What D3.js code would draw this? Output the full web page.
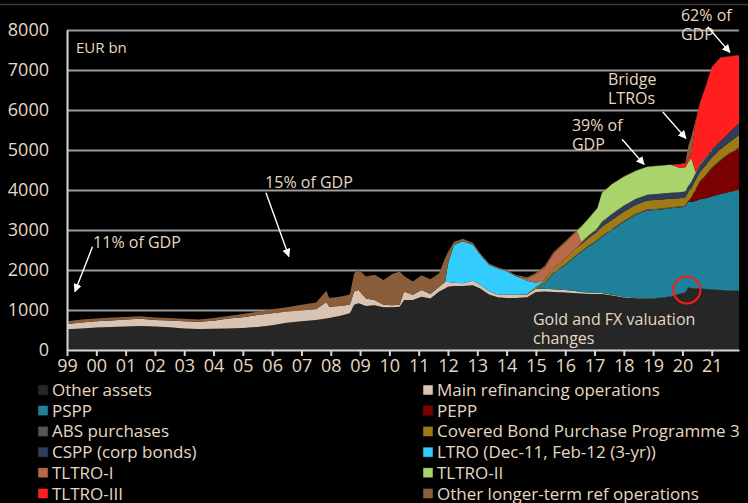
<!DOCTYPE html>
<html>
<head>
<meta charset="utf-8">
<script src="https://cdn.jsdelivr.net/npm/d3@7/dist/d3.min.js"></script>
<style>
  body { margin: 0; background: #000; }
  svg text { font-family: "Open Sans", "Noto Sans", sans-serif; fill: #e6d8c3; }
</style>
</head>
<body>
<div id="chart"></div>
<script>
// decimal years of each observation
var dates = [1999.0, 1999.5, 2000.0, 2000.5, 2001.0, 2001.5, 2002.0, 2002.5, 2003.0, 2003.5,
    2004.0, 2004.5, 2005.0, 2005.5, 2006.0, 2006.5, 2007.0, 2007.5, 2007.85, 2007.95,
    2008.3, 2008.65, 2008.8, 2008.95, 2009.2, 2009.5, 2009.8, 2010.1, 2010.35, 2010.5,
    2010.8, 2011.1, 2011.4, 2011.7, 2011.9, 2012.0, 2012.2, 2012.5, 2012.85, 2013.1,
    2013.4, 2013.7, 2014.0, 2014.3, 2014.7, 2015.0, 2015.3, 2015.6, 2016.0, 2016.4,
    2016.55, 2016.8, 2017.1, 2017.25, 2017.6, 2018.0, 2018.4, 2018.8, 2019.2, 2019.6,
    2019.9, 2020.1, 2020.2, 2020.3, 2020.45, 2020.6, 2020.8, 2021.0, 2021.3, 2021.6, 2021.93];

// EUR bn
var otherAssets = [520, 540, 560, 575, 590, 600, 590, 570, 540, 525,
    530, 535, 550, 575, 620, 680, 720, 750, 790, 800,
    850, 920, 1130, 1170, 1100, 1120, 1070, 1070, 1080, 1250,
    1250, 1330, 1290, 1460, 1540, 1580, 1600, 1600, 1620, 1540,
    1390, 1320, 1300, 1300, 1320, 1450, 1460, 1450, 1440, 1420,
    1410, 1400, 1400, 1400, 1360, 1315, 1295, 1280, 1300, 1340,
    1405, 1435, 1560, 1550, 1540, 1535, 1525, 1515, 1500, 1490, 1480];
var mro = [130, 150, 160, 165, 170, 180, 160, 170, 180, 180,
    200, 255, 270, 300, 300, 280, 270, 270, 410, 280,
    250, 210, 330, 330, 190, 130, 60, 50, 50, 210,
    130, 170, 110, 120, 160, 120, 80, 70, 110, 90,
    80, 70, 90, 80, 70, 80, 70, 70, 60, 50,
    40, 35, 30, 25, 20, 15, 10, 8, 8, 5,
    5, 5, 3, 3, 2, 2, 1, 1, 1, 1, 1];
var pspp = [0, 0, 0, 0, 0, 0, 0, 0, 0, 0,
    0, 0, 0, 0, 0, 0, 0, 0, 0, 0,
    0, 0, 0, 0, 0, 0, 0, 0, 0, 0,
    0, 0, 0, 0, 0, 0, 0, 0, 0, 0,
    0, 0, 0, 0, 0, 0, 150, 400, 620, 900,
    1000, 1150, 1300, 1400, 1620, 1870, 2070, 2200, 2200, 2200,
    2150, 2140, 2145, 2150, 2180, 2230, 2270, 2320, 2400, 2460, 2520];
var pepp = [0, 0, 0, 0, 0, 0, 0, 0, 0, 0,
    0, 0, 0, 0, 0, 0, 0, 0, 0, 0,
    0, 0, 0, 0, 0, 0, 0, 0, 0, 0,
    0, 0, 0, 0, 0, 0, 0, 0, 0, 0,
    0, 0, 0, 0, 0, 0, 0, 0, 0, 0,
    0, 0, 0, 0, 0, 0, 0, 0, 0, 0,
    0, 0, 0, 90, 280, 430, 560, 700, 830, 950, 1040];
var abs = [0, 0, 0, 0, 0, 0, 0, 0, 0, 0,
    0, 0, 0, 0, 0, 0, 0, 0, 0, 0,
    0, 0, 0, 0, 0, 0, 0, 0, 0, 0,
    0, 0, 0, 0, 0, 0, 0, 0, 0, 0,
    0, 0, 0, 0, 0, 2, 5, 10, 18, 20,
    21, 22, 23, 24, 25, 26, 27, 27, 26, 25,
    25, 25, 25, 25, 25, 25, 25, 25, 25, 25, 25];
var cbpp3 = [0, 0, 0, 0, 0, 0, 0, 0, 0, 0,
    0, 0, 0, 0, 0, 0, 0, 0, 0, 0,
    0, 0, 0, 0, 0, 0, 0, 0, 0, 0,
    0, 0, 0, 0, 0, 0, 0, 0, 0, 0,
    0, 0, 0, 0, 10, 40, 70, 110, 140, 170,
    175, 190, 210, 230, 230, 230, 225, 225, 225, 210,
    210, 215, 220, 225, 230, 235, 240, 250, 260, 270, 310];
var cspp = [0, 0, 0, 0, 0, 0, 0, 0, 0, 0,
    0, 0, 0, 0, 0, 0, 0, 0, 0, 0,
    0, 0, 0, 0, 0, 0, 0, 0, 0, 0,
    0, 0, 0, 0, 0, 0, 0, 0, 0, 0,
    0, 0, 0, 0, 0, 0, 0, 0, 0, 0,
    20, 45, 70, 110, 140, 145, 140, 140, 145, 150,
    150, 150, 150, 155, 160, 170, 180, 190, 205, 240, 290];
var ltro = [0, 0, 0, 0, 0, 0, 0, 0, 0, 0,
    0, 0, 0, 0, 0, 0, 0, 0, 0, 0,
    0, 0, 0, 0, 0, 0, 0, 0, 0, 0,
    0, 0, 0, 0, 0, 450, 940, 1050, 900, 750,
    660, 650, 580, 470, 330, 110, 0, 0, 0, 0,
    0, 0, 0, 0, 0, 0, 0, 0, 0, 0,
    0, 0, 0, 0, 0, 0, 0, 0, 0, 0, 0];
var tltro1 = [0, 0, 0, 0, 0, 0, 0, 0, 0, 0,
    0, 0, 0, 0, 0, 0, 0, 0, 0, 0,
    0, 0, 0, 0, 0, 0, 0, 0, 0, 0,
    0, 0, 0, 0, 0, 0, 0, 0, 0, 0,
    0, 0, 0, 0, 60, 210, 300, 370, 410, 420,
    40, 25, 20, 15, 12, 10, 8, 0, 0, 0,
    0, 0, 0, 0, 0, 0, 0, 0, 0, 0, 0];
var tltro2 = [0, 0, 0, 0, 0, 0, 0, 0, 0, 0,
    0, 0, 0, 0, 0, 0, 0, 0, 0, 0,
    0, 0, 0, 0, 0, 0, 0, 0, 0, 0,
    0, 0, 0, 0, 0, 0, 0, 0, 0, 0,
    0, 0, 0, 0, 0, 0, 0, 0, 0, 0,
    380, 420, 500, 720, 740, 720, 700, 700, 700, 700,
    610, 600, 600, 600, 30, 20, 15, 10, 5, 0, 0];
var tltro3 = [0, 0, 0, 0, 0, 0, 0, 0, 0, 0,
    0, 0, 0, 0, 0, 0, 0, 0, 0, 0,
    0, 0, 0, 0, 0, 0, 0, 0, 0, 0,
    0, 0, 0, 0, 0, 0, 0, 0, 0, 0,
    0, 0, 0, 0, 0, 0, 0, 0, 0, 0,
    0, 0, 0, 0, 0, 0, 0, 0, 0, 0,
    85, 100, 100, 100, 1250, 1530, 1780, 2060, 2080, 1900, 1700];
var otherLtro = [70, 70, 70, 70, 65, 65, 60, 60, 60, 60,
    70, 60, 80, 80, 100, 110, 140, 170, 280, 220,
    230, 260, 460, 510, 550, 630, 620, 780, 830, 390,
    330, 370, 370, 340, 600, 300, 80, 60, 50, 40,
    30, 30, 30, 30, 30, 40, 50, 40, 30, 20,
    15, 15, 10, 10, 10, 10, 10, 10, 10, 10,
    10, 10, 300, 430, 50, 20, 15, 10, 10, 10, 10];

var seriesNames = ["Other assets", "Main refinancing operations", "PSPP", "PEPP", "ABS purchases",
    "Covered Bond Purchase Programme 3", "CSPP (corp bonds)", "LTRO (Dec-11, Feb-12 (3-yr))",
    "TLTRO-I", "TLTRO-II", "TLTRO-III", "Other longer-term ref operations"];
var seriesValues = [otherAssets, mro, pspp, pepp, abs, cbpp3, cspp, ltro, tltro1, tltro2, tltro3, otherLtro];
var seriesColors = ["#262626", "#d9c4b4", "#1f8199", "#7b0000", "#555555", "#9e7b14",
    "#2e3d5c", "#33ccff", "#b8694a", "#a9d36b", "#ff1f1f", "#8a5d3b"];

var yTicks = [0, 1000, 2000, 3000, 4000, 5000, 6000, 7000, 8000];
var xTicks = d3.range(1999, 2022);

// annotations in data units [year, EUR bn]
var notes = [
    { lines: ["11% of GDP"], at: [1999.89, 2550], from: [1999.87, 2580], to: [1999.27, 1460] },
    { lines: ["15% of GDP"], at: [2005.76, 4050], from: [2005.79, 3930], to: [2006.57, 2340] },
    { lines: ["39% of", "GDP"], at: [2016.23, 5475], from: [2017.94, 5270], to: [2018.69, 4640] },
    { lines: ["Bridge", "LTROs"], at: [2017.46, 6625], from: [2019.33, 5950], to: [2020.12, 5290] },
    { lines: ["62% of", "GDP"], at: [2019.95, 8225], from: [2020.86, 8080], to: [2021.62, 7440] },
    { lines: ["Gold and FX valuation", "changes"], at: [2014.9, 625] }
];

var width = 748, height = 503;
var margin = { left: 67, right: 9, top: 30, bottom: 153 };

var svg = d3.select("#chart").append("svg")
    .attr("width", width)
    .attr("height", height);

svg.append("rect").attr("width", width).attr("height", height).attr("fill", "#000");
svg.append("line").attr("x1", 0).attr("x2", width).attr("y1", 4.5).attr("y2", 4.5)
    .attr("stroke", "#3a3a3a").attr("stroke-width", 1.5);

var x = d3.scaleLinear().domain([1999, 2021.93]).range([margin.left, width - margin.right]);
var y = d3.scaleLinear().domain([0, 8000]).range([height - margin.bottom, margin.top]);

// gridlines
svg.append("g")
    .attr("transform", "translate(" + margin.left + ",0)")
    .call(d3.axisLeft(y).tickValues(yTicks.slice(1)).tickSize(-(width - margin.right - margin.left)).tickFormat(""))
    .call(g => g.select(".domain").remove())
    .selectAll("line").attr("stroke", "#9a9a9a").attr("stroke-width", 2);

// stacked areas
var rows = dates.map(function (d, i) {
    var r = { date: d };
    seriesNames.forEach(function (k, j) { r[k] = seriesValues[j][i]; });
    return r;
});
var stack = d3.stack().keys(seriesNames);
var layers = stack(rows);
var area = d3.area()
    .x(d => x(d.data.date))
    .y0(d => y(d[0]))
    .y1(d => y(d[1]));

svg.append("g").selectAll("path")
    .data(layers)
    .enter()
    .append("path")
    .attr("d", area)
    .attr("fill", (d, i) => seriesColors[i]);

// axes
var yAxis = svg.append("g")
    .attr("transform", "translate(" + margin.left + ",0)")
    .call(d3.axisLeft(y).tickValues(yTicks).tickSize(0).tickPadding(18).tickFormat(d3.format("d")));
yAxis.select(".domain").attr("stroke", "#d6d6d6").attr("stroke-width", 2);
yAxis.selectAll("text").attr("font-size", 18).attr("font-family", null);

var xAxis = svg.append("g")
    .attr("transform", "translate(0," + y(0) + ")")
    .call(d3.axisBottom(x).tickValues(xTicks).tickSize(6).tickSizeOuter(0).tickPadding(3)
        .tickFormat(d => String(d).slice(2)));
xAxis.select(".domain").attr("stroke", "#d6d6d6").attr("stroke-width", 2);
xAxis.selectAll("line").attr("stroke", "#d6d6d6").attr("stroke-width", 2);
xAxis.selectAll("text").attr("font-size", 18).attr("font-family", null);

svg.append("text").attr("x", 76).attr("y", 53).attr("font-size", 15).text("EUR bn");

// annotations
var defs = svg.append("defs");
defs.append("marker")
    .attr("id", "head")
    .attr("viewBox", "0 0 10 10")
    .attr("refX", 9).attr("refY", 5)
    .attr("markerWidth", 6).attr("markerHeight", 6)
    .attr("markerUnits", "strokeWidth")
    .attr("orient", "auto")
    .append("path").attr("d", "M0,0L10,5L0,10z").attr("fill", "#fff");

var noteG = svg.append("g");
notes.forEach(function (n) {
    var t = noteG.append("text").attr("font-size", 16);
    n.lines.forEach(function (l, i) {
        t.append("tspan").attr("x", x(n.at[0])).attr("y", y(n.at[1]) + i * 19).text(l);
    });
    if (n.from) {
        noteG.append("line")
            .attr("x1", x(n.from[0])).attr("y1", y(n.from[1]))
            .attr("x2", x(n.to[0])).attr("y2", y(n.to[1]))
            .attr("stroke", "#fff").attr("stroke-width", 1.4)
            .attr("marker-end", "url(#head)");
    }
});

// red circle around the valuation jump
svg.append("circle")
    .attr("cx", x(2020.15)).attr("cy", y(1500)).attr("r", 13.5)
    .attr("fill", "none").attr("stroke", "#ff1a1a").attr("stroke-width", 2);

// legend
var legendLeft = [0, 2, 4, 6, 8, 10];
var legendRight = [1, 3, 5, 7, 9, 11];
function drawLegend(idx, sx) {
    var g = svg.append("g");
    idx.forEach(function (k, i) {
        var cy = 390 + i * 20.7;
        g.append("rect").attr("x", sx).attr("y", cy - 5).attr("width", 10).attr("height", 10)
            .attr("fill", seriesColors[k]).attr("stroke", "#111").attr("stroke-width", 0.5);
        g.append("text").attr("x", sx + 14).attr("y", cy + 6).attr("font-size", 17).text(seriesNames[k]);
    });
}
drawLegend(legendLeft, 38);
drawLegend(legendRight, 423);
</script>
</body>
</html>
